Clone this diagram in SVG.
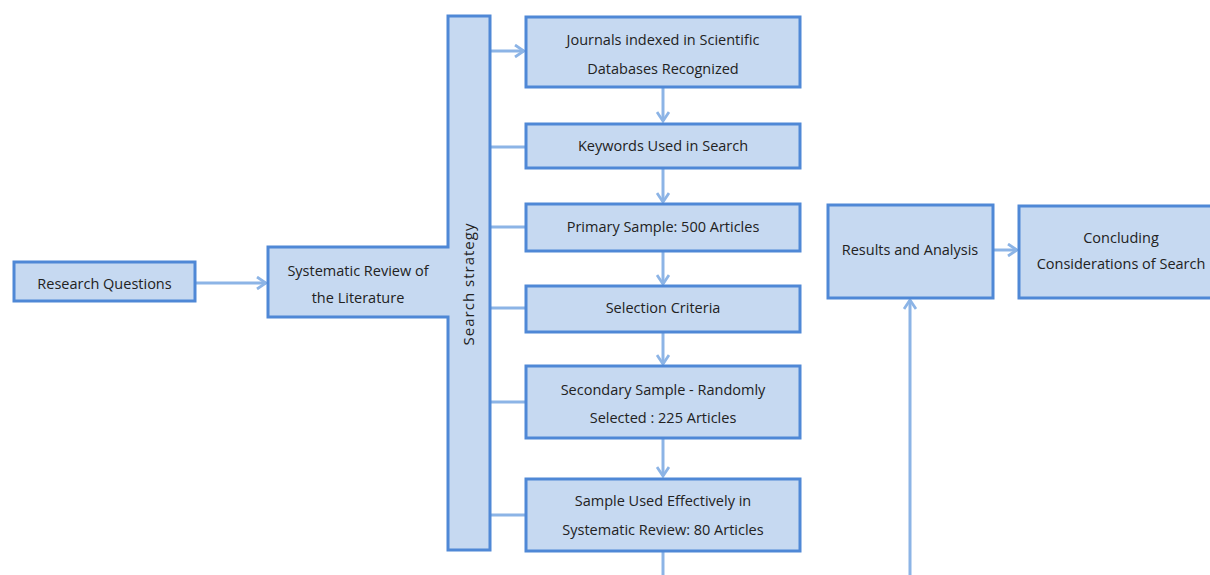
<svg xmlns="http://www.w3.org/2000/svg" width="1210" height="575" viewBox="0 0 1210 575">
<defs>
<style>
.box{fill:#c6d9f1;stroke:#4f88d6;stroke-width:3}
.t{font-family:"Open Sans","Liberation Sans",sans-serif;font-size:14.5px;fill:#222;text-anchor:middle}
.c{stroke:#8cb4e6;stroke-width:3;fill:none}
</style>
<marker id="ah" viewBox="0 0 14 14" refX="12" refY="7" markerWidth="14" markerHeight="14" markerUnits="userSpaceOnUse" orient="auto">
<path d="M3,1 L12,7 L3,13" fill="none" stroke="#8cb4e6" stroke-width="2.8"/>
</marker>
</defs>
<rect width="1210" height="575" fill="#fff"/>
<g id="connectors">
<line class="c" x1="195" y1="283" x2="266" y2="283" marker-end="url(#ah)"/>
<line class="c" x1="490" y1="51" x2="524" y2="51" marker-end="url(#ah)"/>
<line class="c" x1="490" y1="147" x2="526" y2="147"/>
<line class="c" x1="490" y1="227" x2="526" y2="227"/>
<line class="c" x1="490" y1="308" x2="526" y2="308"/>
<line class="c" x1="490" y1="402" x2="526" y2="402"/>
<line class="c" x1="490" y1="515" x2="526" y2="515"/>
<line class="c" x1="663" y1="87" x2="663" y2="121" marker-end="url(#ah)"/>
<line class="c" x1="663" y1="168" x2="663" y2="202" marker-end="url(#ah)"/>
<line class="c" x1="663" y1="251" x2="663" y2="284" marker-end="url(#ah)"/>
<line class="c" x1="663" y1="332" x2="663" y2="364" marker-end="url(#ah)"/>
<line class="c" x1="663" y1="438" x2="663" y2="476" marker-end="url(#ah)"/>
<line class="c" x1="663" y1="551" x2="663" y2="575"/>
<line class="c" x1="910" y1="575" x2="910" y2="300" marker-end="url(#ah)"/>
<line class="c" x1="993" y1="250" x2="1017" y2="250" marker-end="url(#ah)"/>
</g>
<g id="research-questions">
<rect class="box" x="14" y="262" width="181" height="39"/>
<text class="t" x="104.5" y="289">Research Questions</text>
</g>
<g id="systematic-review">
<path class="box" d="M448,16 H490 V550 H448 V317 H268 V247 H448 Z"/>
<text class="t" x="358" y="276">Systematic Review of</text>
<text class="t" x="358" y="303">the Literature</text>
<text class="t" transform="translate(474,284) rotate(-90)" style="font-size:15px;letter-spacing:1px">Search strategy</text>
</g>
<g id="journals">
<rect class="box" x="526" y="17" width="274" height="70"/>
<text class="t" x="663" y="45">Journals indexed in Scientific</text>
<text class="t" x="663" y="74">Databases Recognized</text>
</g>
<g id="keywords">
<rect class="box" x="526" y="124" width="274" height="44"/>
<text class="t" x="663" y="151">Keywords Used in Search</text>
</g>
<g id="primary">
<rect class="box" x="526" y="204" width="274" height="47"/>
<text class="t" x="663" y="232">Primary Sample: 500 Articles</text>
</g>
<g id="selection">
<rect class="box" x="526" y="286" width="274" height="46"/>
<text class="t" x="663" y="313">Selection Criteria</text>
</g>
<g id="secondary">
<rect class="box" x="526" y="366" width="274" height="72"/>
<text class="t" x="663" y="395">Secondary Sample - Randomly</text>
<text class="t" x="663" y="423">Selected : 225 Articles</text>
</g>
<g id="sample-used">
<rect class="box" x="526" y="479" width="274" height="72"/>
<text class="t" x="663" y="506">Sample Used Effectively in</text>
<text class="t" x="663" y="535">Systematic Review: 80 Articles</text>
</g>
<g id="results">
<rect class="box" x="828" y="205" width="165" height="93"/>
<text class="t" x="910" y="255">Results and Analysis</text>
</g>
<g id="concluding">
<rect class="box" x="1019" y="206" width="200" height="92"/>
<text class="t" x="1121" y="243">Concluding</text>
<text class="t" x="1121" y="269">Considerations of Search</text>
</g>
</svg>
